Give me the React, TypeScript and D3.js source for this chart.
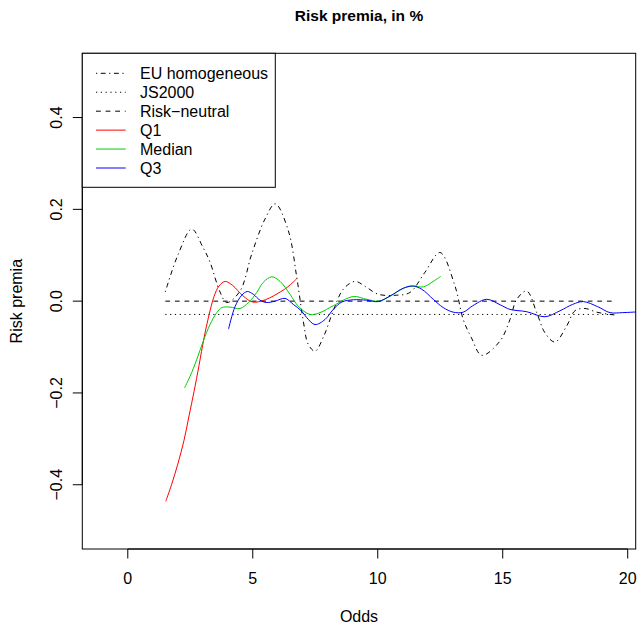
import React from "react";
import * as d3 from "d3";

// values: [odds, risk premium]
const euHomogeneous: [number, number][] = [
  [1.5, 0.02], [2.0, 0.1], [2.56, 0.157], [3.0, 0.118], [3.29, 0.085], [3.69, 0.02],
  [3.96, -0.003], [4.49, 0.022], [4.96, 0.103], [5.49, 0.179], [5.9, 0.212],
  [6.42, 0.154], [6.76, 0.052], [7.02, -0.043], [7.22, -0.094], [7.49, -0.109],
  [7.85, -0.075], [8.22, -0.021], [8.62, 0.026], [9.09, 0.043], [9.5, 0.032],
  [10.02, 0.015], [10.76, 0.013], [11.29, 0.019], [11.89, 0.063], [12.49, 0.106],
  [13.09, 0.033], [13.42, -0.04], [13.75, -0.08], [14.16, -0.118], [14.89, -0.087],
  [15.29, -0.04], [15.56, 0.004], [15.96, 0.022], [16.36, -0.025], [16.69, -0.069],
  [17.09, -0.089], [17.56, -0.054], [17.89, -0.021], [18.29, -0.016], [18.76, -0.024],
  [19.29, -0.029], [19.5, -0.03],
];

const js2000: [number, number][] = [[1.5, -0.029], [19.5, -0.029]];
const riskNeutral: [number, number][] = [[1.5, 0], [19.5, 0]];

const q1: [number, number][] = [
  [1.52, -0.436], [1.75, -0.4], [2.0, -0.355], [2.25, -0.303], [2.45, -0.25],
  [2.65, -0.197], [2.85, -0.14], [3.05, -0.08], [3.25, -0.03], [3.45, 0.01],
  [3.65, 0.033], [3.9, 0.043], [4.2, 0.034], [4.6, 0.012], [5.0, -0.002],
  [5.5, 0.003], [6.1, 0.02], [6.4, 0.031], [6.76, 0.049],
];

const median: [number, number][] = [
  [2.27, -0.189], [2.49, -0.164], [2.76, -0.127], [3.02, -0.087], [3.29, -0.051],
  [3.56, -0.025], [3.76, -0.014], [4.09, -0.013], [4.49, -0.016], [4.83, -0.003],
  [5.16, 0.019], [5.42, 0.041], [5.76, 0.053], [6.09, 0.043], [6.49, 0.015],
  [6.82, -0.011], [7.29, -0.029], [7.69, -0.025], [8.22, -0.01], [9.02, 0.01],
  [9.56, 0.004], [10.02, 0.0], [10.49, 0.011], [11.02, 0.028], [11.43, 0.033],
  [11.82, 0.031], [12.16, 0.041], [12.52, 0.054],
];

const q3: [number, number][] = [
  [4.03, -0.061], [4.29, -0.012], [4.56, 0.013], [4.78, 0.021], [5.02, 0.015],
  [5.29, 0.002], [5.56, -0.003], [5.89, 0.0], [6.29, 0.006], [6.62, -0.007],
  [6.96, -0.022], [7.16, -0.036], [7.49, -0.051], [7.89, -0.04], [8.22, -0.018],
  [8.56, -0.002], [9.02, 0.003], [9.56, 0.002], [10.02, -0.001], [10.49, 0.011],
  [11.02, 0.028], [11.38, 0.033], [11.76, 0.026], [12.22, 0.004], [12.62, -0.014],
  [13.02, -0.024], [13.42, -0.024], [13.8, -0.01], [14.36, 0.004], [14.9, -0.008],
  [15.29, -0.018], [15.96, -0.023], [16.69, -0.034], [17.29, -0.021], [17.8, -0.007],
  [18.22, -0.001], [18.8, -0.012], [19.29, -0.025], [19.8, -0.025], [20.5, -0.023],
];

const xTicks = [0, 5, 10, 15, 20];
const yTicks = [-0.4, -0.2, 0, 0.2, 0.4];

const series = [
  { name: "EU homogeneous", data: euHomogeneous, color: "#000000", dash: "1.2,3.6,4.8,3.6" },
  { name: "JS2000", data: js2000, color: "#000000", dash: "1.2,3.6" },
  { name: "Risk\u2212neutral", data: riskNeutral, color: "#000000", dash: "4.8,4.8" },
  { name: "Q1", data: q1, color: "#ff0000", dash: null },
  { name: "Median", data: median, color: "#00cc00", dash: null },
  { name: "Q3", data: q3, color: "#0000ff", dash: null },
];

const W = 638;
const H = 624;
const left = 82.3, right = 635.7, top = 53.3, bottom = 549;
const font = "'Liberation Sans', Arial, Helvetica, sans-serif";

const fmt = (v: number) => {
  const s = d3.format(".1f")(Math.abs(v));
  return v < 0 ? "\u2212" + s : s;
};

export default function App() {
  // R's xlim c(-1, 19.5), ylim c(-0.5, 0.5) plus 4% padding
  const x = d3.scaleLinear().domain([-1.82, 20.32]).range([left, right]);
  const y = d3.scaleLinear().domain([-0.54, 0.54]).range([bottom, top]);

  const line = d3
    .line<[number, number]>()
    .x((d) => x(d[0]))
    .y((d) => y(d[1]))
    .curve(d3.curveCatmullRom.alpha(0.5));

  const legX = 82.3, legY = 53.3, legW = 193, legH = 134;

  return (
    <svg
      width={W}
      height={H}
      style={{ position: "absolute", left: 0, top: 0, background: "#fff" }}
      fontFamily={font}
    >
      <defs>
        <clipPath id="plotclip">
          <rect x={left} y={top} width={right - left} height={bottom - top} />
        </clipPath>
      </defs>
      <rect width={W} height={H} fill="#fff" />

      <text x={(left + right) / 2} y={21} textAnchor="middle" fontWeight="bold" fontSize={15.5}>
        Risk premia, in %
      </text>

      <g clipPath="url(#plotclip)" fill="none">
        {series.map((s) => (
          <path
            key={s.name}
            d={line(s.data) || ""}
            stroke={s.color}
            strokeWidth={1}
            strokeDasharray={s.dash || undefined}
          />
        ))}
      </g>

      {/* x axis */}
      <g stroke="#000" strokeWidth={1}>
        <line x1={x(0)} x2={x(20)} y1={bottom} y2={bottom} />
        {xTicks.map((t) => (
          <line key={t} x1={x(t)} x2={x(t)} y1={bottom} y2={bottom + 9.5} />
        ))}
      </g>
      {xTicks.map((t) => (
        <text key={t} x={x(t)} y={584} textAnchor="middle" fontSize={16}>
          {t}
        </text>
      ))}

      {/* y axis */}
      <g stroke="#000" strokeWidth={1}>
        <line x1={left} x2={left} y1={y(-0.4)} y2={y(0.4)} />
        {yTicks.map((t) => (
          <line key={t} x1={left} x2={left - 9.5} y1={y(t)} y2={y(t)} />
        ))}
      </g>
      {yTicks.map((t) => (
        <text
          key={t}
          transform={`translate(61.5,${y(t)}) rotate(-90)`}
          textAnchor="middle"
          fontSize={16}
        >
          {fmt(t)}
        </text>
      ))}

      <rect x={left} y={top} width={right - left} height={bottom - top} fill="none" stroke="#000" />

      <text x={(left + right) / 2} y={622} textAnchor="middle" fontSize={16}>
        Odds
      </text>
      <text transform={`translate(21.5,${(top + bottom) / 2}) rotate(-90)`} textAnchor="middle" fontSize={16}>
        Risk premia
      </text>

      {/* legend */}
      <rect x={legX} y={legY} width={legW} height={legH} fill="#fff" stroke="#000" />
      {series.map((s, i) => {
        const cy = 73.3 + i * 18.94;
        return (
          <g key={s.name}>
            <line
              x1={96}
              x2={125.7}
              y1={cy}
              y2={cy}
              stroke={s.color}
              strokeWidth={1}
              strokeDasharray={s.dash || undefined}
            />
            <text x={140} y={cy + 6} fontSize={16}>
              {s.name}
            </text>
          </g>
        );
      })}
    </svg>
  );
}
